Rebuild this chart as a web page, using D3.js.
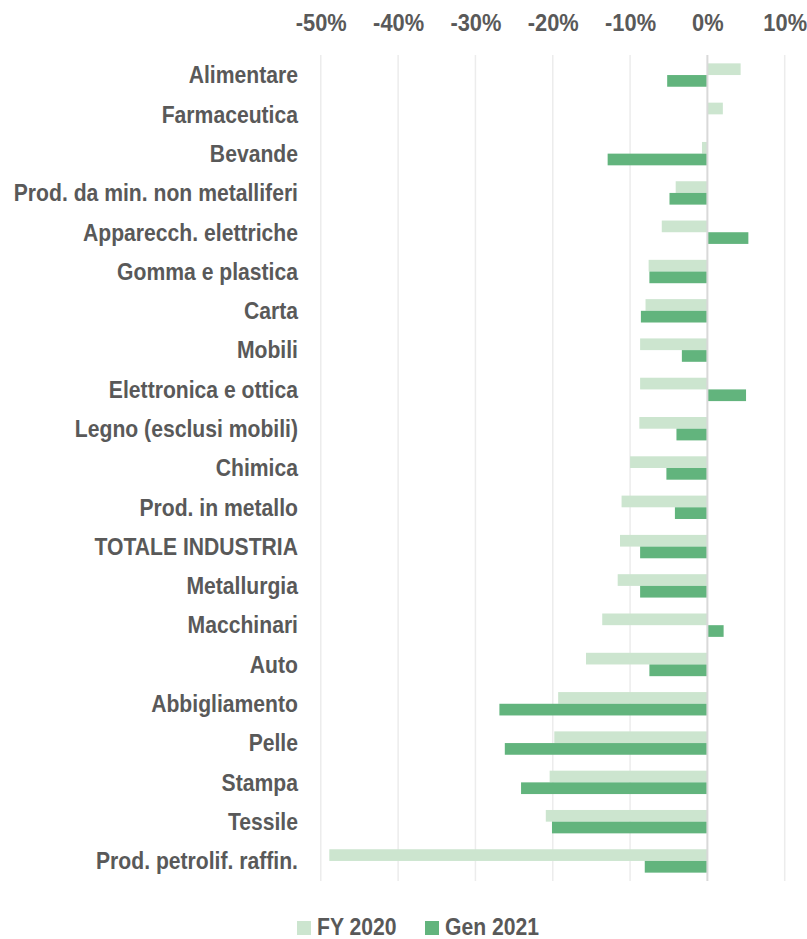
<!DOCTYPE html>
<html>
<head>
<meta charset="utf-8">
<script src="https://cdn.jsdelivr.net/npm/d3@7"></script>
<style>
  html, body { margin: 0; padding: 0; background: #ffffff; }
  svg { display: block; }
  text { font-family: "Liberation Sans", Arial, sans-serif; font-weight: bold; fill: #595959; }
</style>
</head>
<body>
<svg id="chart" width="807" height="939"></svg>
<script>
const categories = [
  "Alimentare", "Farmaceutica", "Bevande", "Prod. da min. non metalliferi",
  "Apparecch. elettriche", "Gomma e plastica", "Carta", "Mobili",
  "Elettronica e ottica", "Legno (esclusi mobili)", "Chimica", "Prod. in metallo",
  "TOTALE INDUSTRIA", "Metallurgia", "Macchinari", "Auto", "Abbigliamento",
  "Pelle", "Stampa", "Tessile", "Prod. petrolif. raffin."
];
const fy2020 = [4.3, 2.0, -0.7, -4.1, -5.9, -7.6, -8.0, -8.7, -8.7, -8.8, -10.0, -11.1,
  -11.3, -11.6, -13.6, -15.7, -19.3, -19.8, -20.4, -20.9, -48.9];
const gen2021 = [-5.2, 0.0, -12.9, -4.9, 5.3, -7.5, -8.6, -3.3, 5.0, -4.0, -5.3, -4.2,
  -8.7, -8.7, 2.1, -7.5, -26.9, -26.2, -24.1, -20.1, -8.1];
const seriesNames = ["FY 2020", "Gen 2021"];
const seriesColors = ["#cce5cf", "#62b47d"];
const xTicks = [-50, -40, -30, -20, -10, 0, 10];

const svg = d3.select("#chart");
const x = d3.scaleLinear().domain([-50, 10]).range([320.8, 784.7]);
const y = d3.scaleBand().domain(categories).range([55.4, 880.6])
  .paddingInner(0.405).paddingOuter(0.2025);
const ySub = d3.scaleBand().domain(seriesNames).range([0, y.bandwidth()]);
const FS = 23, SX = 0.92;

// gridlines
svg.append("g").selectAll("line").data(xTicks.filter(d => d !== 0)).join("line")
  .attr("x1", d => x(d)).attr("x2", d => x(d))
  .attr("y1", 55).attr("y2", 881)
  .attr("stroke", "#ececec").attr("stroke-width", 1.5);

// top axis labels
const xAxis = d3.axisTop(x).tickValues(xTicks).tickFormat(d => d + "%").tickSize(0).tickPadding(0);
const gx = svg.append("g").attr("transform", "translate(0,31)").call(xAxis);
gx.select(".domain").remove();
gx.selectAll("text")
  .attr("y", 0).attr("dy", 0).attr("x", 0)
  .style("font-size", FS + "px").style("font-family", "'Liberation Sans', Arial, sans-serif")
  .style("font-weight", "bold").attr("fill", "#595959")
  .attr("transform", `scale(0.95,1)`);

// bars
const data = categories.map((c, i) => ({ cat: c, vals: [fy2020[i], gen2021[i]] }));
const rows = svg.append("g").selectAll("g").data(data).join("g")
  .attr("transform", d => `translate(0,${y(d.cat)})`);
rows.selectAll("rect").data(d => d.vals.map((v, k) => ({ v, k })))
  .join("rect")
  .attr("x", d => x(Math.min(0, d.v)))
  .attr("width", d => Math.abs(x(d.v) - x(0)))
  .attr("y", d => ySub(seriesNames[d.k]))
  .attr("height", ySub.bandwidth())
  .attr("fill", d => seriesColors[d.k]);

// zero line
svg.append("line")
  .attr("x1", x(0)).attr("x2", x(0)).attr("y1", 55).attr("y2", 881)
  .attr("stroke", "#d9d9d9").attr("stroke-width", 2);

// category labels
const yAxis = d3.axisLeft(y).tickSize(0).tickPadding(0);
const gy = svg.append("g").attr("transform", "translate(298,0)").call(yAxis);
gy.select(".domain").remove();
gy.selectAll("text")
  .attr("x", 0).attr("dy", "0.36em")
  .style("font-size", FS + "px").style("font-family", "'Liberation Sans', Arial, sans-serif")
  .style("font-weight", "bold").attr("fill", "#595959")
  .attr("transform", `scale(${SX},1)`);

// legend
const legendX = [297, 425];
const lg = svg.append("g").selectAll("g").data(seriesNames).join("g")
  .attr("transform", (d, i) => `translate(${legendX[i]},921)`);
lg.append("rect").attr("width", 14).attr("height", 14).attr("fill", (d, i) => seriesColors[i]);
lg.append("text").attr("x", 20 / SX).attr("y", 14)
  .attr("transform", `scale(${SX},1)`)
  .style("font-size", FS + "px").text(d => d);
</script>
</body>
</html>
